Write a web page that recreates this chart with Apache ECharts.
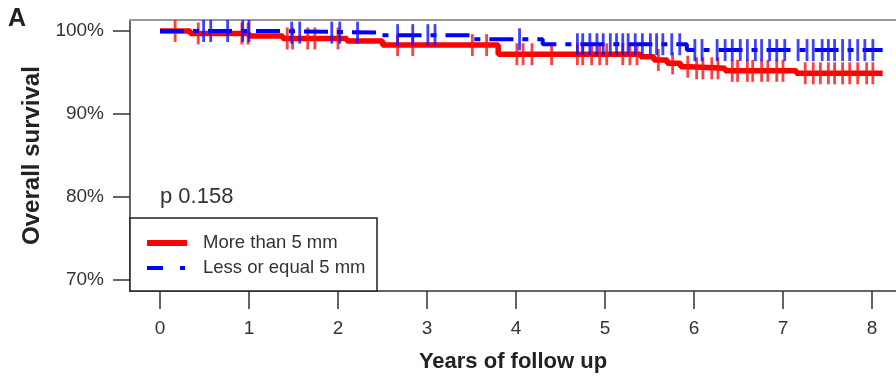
<!DOCTYPE html>
<html>
<head>
<meta charset="utf-8">
<script src="https://cdn.jsdelivr.net/npm/echarts@6/dist/echarts.min.js"></script>
<style>
html,body{margin:0;padding:0;background:#fff;}
#chart{width:896px;height:378px;}
</style>
</head>
<body>
<div id="chart"></div>
<script>
// ---- data ----
const xTickValues = [0, 1, 2, 3, 4, 5, 6, 7, 8];
const yTickValues = [70, 80, 90, 100];

// Kaplan-Meier step curves: time (years) of each step and survival (%) from that time on
const redTimes = [0, 0.34, 1.0, 1.38, 2.1, 2.5, 3.8, 5.4, 5.55, 5.7, 5.85, 5.95, 6.35, 7.15, 8.12];
const redSurv  = [100, 99.7, 99.4, 99.1, 98.8, 98.3, 97.2, 96.9, 96.5, 96.1, 95.7, 95.5, 95.2, 94.9, 94.9];

const blueTimes = [0, 1.3, 2.45, 3.48, 4.3, 5.92, 8.12];
const blueSurv  = [100, 99.8, 99.5, 99.0, 98.4, 97.7, 97.7];

// censoring times (years)
const redCensor = [0.17, 0.43, 0.92, 0.99, 1.43, 1.49, 1.66, 1.74, 2.0, 2.67, 2.84, 3.51, 3.67, 4.01, 4.08, 4.18, 4.40,
  4.69, 4.75, 4.85, 4.94, 5.02, 5.20, 5.28, 5.36, 5.60, 5.76, 5.93, 6.03, 6.10, 6.20, 6.27, 6.43, 6.49, 6.60, 6.66,
  6.76, 6.83, 6.93, 7.0, 7.25, 7.34, 7.42, 7.51, 7.58, 7.67, 7.75, 7.84, 7.94, 8.01];
const blueCensor = [0.49, 0.57, 0.76, 0.93, 1.0, 1.48, 1.57, 1.93, 2.02, 2.22, 2.67, 2.84, 3.01, 3.09, 4.04,
  4.69, 4.75, 4.83, 4.91, 4.98, 5.06, 5.13, 5.20, 5.26, 5.34, 5.42, 5.51, 5.58, 5.65, 5.75, 5.84,
  6.01, 6.09, 6.26, 6.35, 6.43, 6.52, 6.60, 6.69, 6.76, 6.85, 6.93, 7.02, 7.17, 7.27, 7.34, 7.44,
  7.51, 7.58, 7.67, 7.75, 7.84, 7.92, 8.01];

const seriesNames = ['More than 5 mm', 'Less or equal 5 mm'];
const pText = 'p 0.158';

// ---- helpers ----
function stepPairs(ts, ss) { return ts.map((t, i) => [t, ss[i]]); }
function survAt(ts, ss, t) {
  let s = ss[0];
  for (let i = 0; i < ts.length; i++) { if (ts[i] <= t) s = ss[i]; }
  return s;
}
function censorPairs(cs, ts, ss) { return cs.map(t => [t, survAt(ts, ss, t)]); }

const RED = '#ff0000', BLUE = '#0000ff';
const FONT = 'Liberation Sans, Arial, sans-serif';
const legendDash = [16, 17, 5, 17];
const plotDash = [24, 9, 6, 9];

const chart = echarts.init(document.getElementById('chart'), null, {renderer: 'canvas'});
const labelFont = {fontFamily: FONT, fontSize: 19, color: '#333'};

chart.setOption({
  animation: false,
  backgroundColor: '#fff',
  legend: {show: false},
  grid: {left: 130, top: 20, right: 0, bottom: 87, containLabel: false},
  xAxis: [{
    type: 'value', min: -0.337, max: 8.27, position: 'bottom',
    name: 'Years of follow up', nameLocation: 'middle', nameGap: 60,
    nameTextStyle: {fontFamily: FONT, fontSize: 22, fontWeight: 'bold', color: '#222'},
    axisLine: {show: true, onZero: false, lineStyle: {color: '#333', width: 1.5}},
    axisTick: {show: true, length: 18, inside: false, customValues: xTickValues, lineStyle: {color: '#333', width: 1.5}},
    axisLabel: Object.assign({margin: 28, customValues: xTickValues, formatter: v => String(v)}, labelFont),
    splitLine: {show: false}
  }, {
    type: 'value', min: -0.337, max: 8.27, position: 'top',
    axisLine: {show: true, onZero: false, lineStyle: {color: '#999', width: 2}},
    axisTick: {show: false}, axisLabel: {show: false}, splitLine: {show: false}
  }],
  yAxis: {
    type: 'value', min: 68.675, max: 101.325,
    name: 'Overall survival', nameLocation: 'middle', nameGap: 75, nameRotate: 90,
    nameTextStyle: {fontFamily: FONT, fontSize: 24, fontWeight: 'bold', color: '#222'},
    axisLine: {show: true, onZero: false, lineStyle: {color: '#333', width: 1.5}},
    axisTick: {show: true, length: 17, customValues: yTickValues, lineStyle: {color: '#333', width: 1.5}},
    axisLabel: Object.assign({margin: 26, customValues: yTickValues, formatter: v => v + '%'}, labelFont),
    splitLine: {show: false}
  },
  graphic: [
    {type: 'text', left: 8, top: 7, style: {text: 'A', font: 'bold 25px ' + FONT, fill: '#222'}},
    {type: 'text', left: 160, top: 186, style: {text: pText, font: '22px ' + FONT, fill: '#333'}},
    {type: 'rect', z: 100, shape: {x: 130, y: 218, width: 247, height: 73},
      style: {fill: '#fff', stroke: '#222', lineWidth: 1.5}},
    {type: 'line', z: 101, shape: {x1: 147, y1: 243, x2: 187, y2: 243}, style: {stroke: RED, lineWidth: 6}},
    {type: 'line', z: 101, shape: {x1: 147, y1: 268, x2: 187, y2: 268}, style: {stroke: BLUE, lineWidth: 4, lineDash: legendDash}},
    {type: 'text', z: 101, x: 203, y: 243, style: {text: seriesNames[0], font: '18.5px ' + FONT, fill: '#333', verticalAlign: 'middle'}},
    {type: 'text', z: 101, x: 203, y: 268, style: {text: seriesNames[1], font: '18.5px ' + FONT, fill: '#333', verticalAlign: 'middle'}}
  ],
  series: [
    {
      name: seriesNames[0], type: 'line', step: 'end', symbol: 'none', data: stepPairs(redTimes, redSurv),
      lineStyle: {color: RED, width: 5.5}, itemStyle: {color: RED}, z: 2
    },
    {
      name: 'red-censor', type: 'scatter', symbol: 'rect', symbolSize: [2.8, 22],
      data: censorPairs(redCensor, redTimes, redSurv), itemStyle: {color: '#ff1010'}, z: 3, silent: true
    },
    {
      name: seriesNames[1], type: 'line', step: 'end', symbol: 'none', data: stepPairs(blueTimes, blueSurv),
      lineStyle: {color: BLUE, width: 4, type: plotDash}, itemStyle: {color: BLUE}, z: 4
    },
    {
      name: 'blue-censor', type: 'scatter', symbol: 'rect', symbolSize: [2.8, 22],
      data: censorPairs(blueCensor, blueTimes, blueSurv), itemStyle: {color: '#1010ff'}, z: 5, silent: true
    }
  ]
});
</script>
</body>
</html>
